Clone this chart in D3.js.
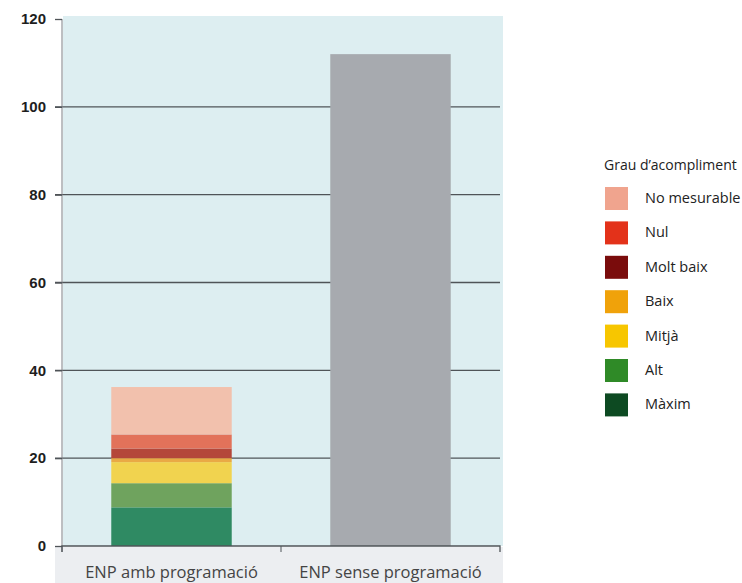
<!DOCTYPE html>
<html>
<head>
<meta charset="utf-8">
<script src="https://cdn.jsdelivr.net/npm/d3@7"></script>
<style>
    body { margin: 0; background: #fff; }
    svg { display: block; }
</style>
</head>
<body>
<svg id="chart" width="742" height="583"></svg>
<script>
let categories = ['ENP amb programació', 'ENP sense programació']
let levels = ['Màxim', 'Alt', 'Mitjà', 'Baix', 'Molt baix', 'Nul', 'No mesurable']
let withProgramme = [8.8, 5.5, 4.8, 0.9, 2.2, 3.2, 10.8]
let withoutProgramme = 112
let yTicks = [0, 20, 40, 60, 80, 100, 120]
let barColors = ['#2f8a63', '#6fa35e', '#f1d34f', '#e9aa45', '#b4473a', '#e2725a', '#f2c1ad']
let legendColors = ['#0d4a22', '#2f8a27', '#f7c600', '#f0a20a', '#7a0c0c', '#e3321a', '#f0a48e']

function main() {
    let svg = d3.select('#chart'),
        margin = {top: 19, bottom: 37, left: 62, right: 242},
        width = svg.attr('width') - margin.left - margin.right,
        height = svg.attr('height') - margin.top - margin.bottom

    let xScale = d3.scaleBand().range([margin.left, margin.left + width]).domain(categories)
            .paddingInner(0.45).paddingOuter(0.225),
        yScale = d3.scaleLinear().domain([0, 120]).range([height + margin.top, margin.top])

    // plot background + grey strip under the axis
    svg.append('rect')
        .attr('x', margin.left + 1).attr('y', 16)
        .attr('width', width + 2).attr('height', yScale(0) - 16)
        .attr('fill', '#ddeef1')
    svg.append('rect')
        .attr('x', 55).attr('y', yScale(0) + 1)
        .attr('width', width + 10).attr('height', 40)
        .attr('fill', '#eceef1')

    // gridlines
    svg.append('g')
        .selectAll('line')
        .data(yTicks.filter(d => d > 0 && d < 120))
        .enter()
        .append('line')
        .attr('x1', 55).attr('x2', margin.left + width)
        .attr('y1', d => yScale(d)).attr('y2', d => yScale(d))
        .attr('stroke', '#4f5458').attr('stroke-width', 1.3)

    // stacked bar
    let stack = []
    let base = 0
    withProgramme.forEach((v, i) => {
        stack.push({level: levels[i], y0: base, y1: base + v, color: barColors[i]})
        base += v
    })
    svg.append('g')
        .selectAll('rect')
        .data(stack)
        .enter()
        .append('rect')
        .attr('x', xScale(categories[0]))
        .attr('width', xScale.bandwidth())
        .attr('y', d => yScale(d.y1))
        .attr('height', d => yScale(d.y0) - yScale(d.y1))
        .attr('fill', d => d.color)

    svg.append('rect')
        .attr('x', xScale(categories[1]))
        .attr('width', xScale.bandwidth())
        .attr('y', yScale(withoutProgramme))
        .attr('height', yScale(0) - yScale(withoutProgramme))
        .attr('fill', '#a7aaaf')

    // y axis
    let yAxis = svg.append('g')
        .attr('transform', 'translate(' + margin.left + ', 0)')
        .call(d3.axisLeft(yScale).tickValues(yTicks).tickSize(7).tickPadding(9))
    yAxis.select('.domain').attr('stroke', '#7a7f84').attr('d', 'M0,' + yScale(120) + 'V' + (yScale(0) + 6))
    yAxis.selectAll('.tick line').attr('stroke', '#4f5458').attr('stroke-width', 1.3)
    yAxis.selectAll('.tick text')
        .attr('font-family', 'Liberation Sans, Arial, sans-serif')
        .attr('font-weight', 'bold')
        .attr('font-size', 15)
        .attr('fill', '#1e1e1e')

    // x axis
    let xAxis = svg.append('g')
        .attr('transform', 'translate(0, ' + yScale(0) + ')')
        .call(d3.axisBottom(xScale).tickSize(0).tickPadding(20))
    xAxis.select('.domain').attr('stroke', '#4f5458').attr('stroke-width', 1.3)
        .attr('d', 'M' + margin.left + ',6V0H' + (margin.left + width) + 'V6')
    xAxis.append('line')
        .attr('x1', margin.left + width / 2).attr('x2', margin.left + width / 2)
        .attr('y1', 0).attr('y2', 6)
        .attr('stroke', '#4f5458')
    xAxis.selectAll('.tick text')
        .attr('font-family', 'Open Sans, sans-serif')
        .attr('font-size', 16.5)
        .attr('fill', '#444')

    // legend
    let legend = svg.append('g').attr('transform', 'translate(605, 0)')
    legend.append('text')
        .attr('x', -1).attr('y', 170)
        .attr('font-family', 'Open Sans, sans-serif')
        .attr('font-size', 14)
        .attr('fill', '#222')
        .text('Grau d\u2019acompliment')

    let legendOrder = levels.map((d, i) => i).reverse()
    let items = legend.selectAll('.item')
        .data(legendOrder)
        .enter()
        .append('g')
        .attr('class', 'item')
        .attr('transform', (d, j) => 'translate(0, ' + (187 + j * 34.4) + ')')
    items.append('rect')
        .attr('width', 23).attr('height', 23)
        .attr('fill', i => legendColors[i])
    items.append('text')
        .attr('x', 40).attr('y', 16)
        .attr('font-family', 'Open Sans, sans-serif')
        .attr('font-size', 14.5)
        .attr('fill', '#222')
        .text(i => levels[i])
}

main()
</script>
</body>
</html>
